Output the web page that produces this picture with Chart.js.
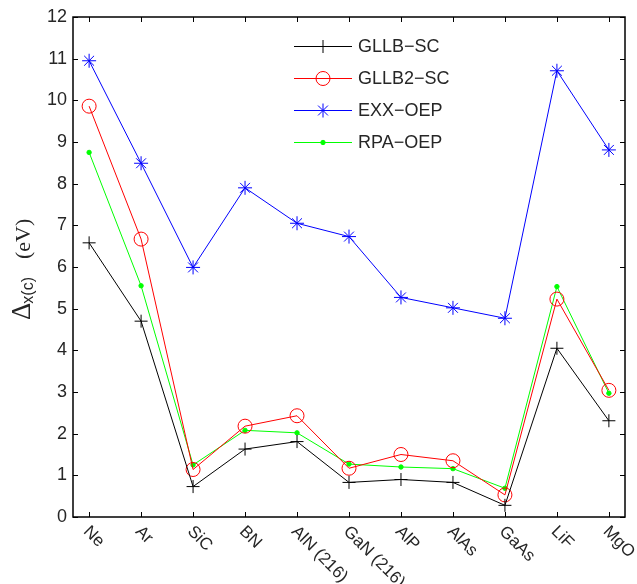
<!DOCTYPE html>
<html>
<head>
<meta charset="utf-8">
<script src="https://cdn.jsdelivr.net/npm/chart.js@4"></script>
<style>
  html, body { margin: 0; padding: 0; background: #fff; }
  #wrap { width: 637px; height: 584px; }
</style>
</head>
<body>
<div id="wrap"><canvas id="gapChart" width="637" height="584"></canvas></div>
<script>
// categories and values
const categories = ['Ne', 'Ar', 'SiC', 'BN', 'AlN (216)', 'GaN (216)', 'AlP', 'AlAs', 'GaAs', 'LiF', 'MgO'];
const gllbSc  = [6.58, 4.70, 0.73, 1.63, 1.81, 0.83, 0.90, 0.83, 0.28, 4.05, 2.31];
const gllb2Sc = [9.86, 6.67, 1.14, 2.18, 2.43, 1.17, 1.50, 1.35, 0.53, 5.23, 3.04];
const exxOep  = [10.95, 8.49, 5.99, 7.90, 7.05, 6.73, 5.27, 5.02, 4.77, 10.71, 8.81];
const rpaOep  = [8.75, 5.55, 1.25, 2.08, 2.02, 1.27, 1.20, 1.16, 0.69, 5.53, 2.97];
const yTicks  = [0, 1, 2, 3, 4, 5, 6, 7, 8, 9, 10, 11, 12];

const toPoints = vals => vals.map((v, i) => ({ x: i, y: v }));

function series(label, vals, color, style, radius, fill) {
    return {
        label: label,
        data: toPoints(vals),
        borderColor: color,
        backgroundColor: color,
        borderWidth: 1,
        pointStyle: style,
        pointRadius: radius,
        pointBorderColor: color,
        pointBackgroundColor: fill ? color : 'rgba(0,0,0,0)',
        pointBorderWidth: 1,
        tension: 0
    };
}

const datasets = [
    series('GLLB\u2212SC', gllbSc, '#000000', 'cross', 6.5, false),
    series('GLLB2\u2212SC', gllb2Sc, '#ff0000', 'circle', 7, false),
    series('EXX\u2212OEP', exxOep, '#0000ff', 'star', 7, false),
    series('RPA\u2212OEP', rpaOep, '#00ff00', 'circle', 2.2, true)
];

// frame, inward ticks, rotated x labels, legend and y title
const decorations = {
    id: 'decorations',
    afterDraw(chart) {
        const ctx = chart.ctx;
        const a = chart.chartArea;
        const xs = chart.scales.x, ys = chart.scales.y;
        ctx.save();
        ctx.strokeStyle = '#000';
        ctx.lineWidth = 1.5;
        ctx.strokeRect(a.left, a.top, a.right - a.left, a.bottom - a.top);

        ctx.lineWidth = 1;
        ctx.beginPath();
        categories.forEach((c, i) => {
            const px = Math.round(xs.getPixelForValue(i)) + 0.5;
            ctx.moveTo(px, a.bottom); ctx.lineTo(px, a.bottom - 5);
            ctx.moveTo(px, a.top); ctx.lineTo(px, a.top + 5);
        });
        yTicks.forEach(t => {
            const py = Math.round(ys.getPixelForValue(t)) + 0.5;
            ctx.moveTo(a.left, py); ctx.lineTo(a.left + 5, py);
            ctx.moveTo(a.right, py); ctx.lineTo(a.right - 5, py);
        });
        ctx.stroke();

        // x labels rotated 45 deg clockwise
        ctx.fillStyle = '#262626';
        ctx.font = '17px "Liberation Sans", Arial, sans-serif';
        ctx.textAlign = 'left';
        ctx.textBaseline = 'middle';
        categories.forEach((c, i) => {
            const px = xs.getPixelForValue(i);
            ctx.save();
            ctx.translate(px - 3, a.bottom + 12);
            ctx.rotate(Math.PI / 4);
            ctx.fillText(c, 0, 0);
            ctx.restore();
        });

        // legend
        const lx0 = 294, lx1 = 352, rows = [46, 78, 110, 142];
        ctx.font = '18px "Liberation Sans", Arial, sans-serif';
        chart.data.datasets.forEach((ds, k) => {
            const y = rows[k];
            ctx.strokeStyle = ds.borderColor;
            ctx.lineWidth = 1;
            ctx.beginPath();
            ctx.moveTo(lx0, y + 0.5); ctx.lineTo(lx1, y + 0.5);
            ctx.stroke();
            ctx.fillStyle = ds.pointBackgroundColor;
            Chart.helpers.drawPoint(ctx, {
                pointStyle: ds.pointStyle,
                radius: ds.pointRadius,
                borderWidth: 1,
                rotation: 0
            }, (lx0 + lx1) / 2, y + 0.5);
            ctx.fillStyle = '#262626';
            ctx.textAlign = 'left';
            ctx.textBaseline = 'middle';
            ctx.fillText(ds.label, 358, y + 1);
        });

        // y title: Delta_x(c) (eV)
        ctx.save();
        ctx.translate(30, 320);
        ctx.rotate(-Math.PI / 2);
        ctx.fillStyle = '#262626';
        ctx.textAlign = 'left';
        ctx.textBaseline = 'alphabetic';
        ctx.font = '27px "Liberation Serif", "Times New Roman", serif';
        ctx.fillText('\u0394', 0, 0);
        let w = ctx.measureText('\u0394').width;
        ctx.font = '16px "Liberation Sans", Arial, sans-serif';
        ctx.fillText('x(c)', w - 1, 3);
        w += -1 + ctx.measureText('x(c)').width;
        ctx.font = '22px "Liberation Serif", "Times New Roman", serif';
        ctx.fillText('(eV)', w + 18, 0);
        ctx.restore();

        ctx.restore();
    }
};

const ctx = document.getElementById('gapChart').getContext('2d');
const gapChart = new Chart(ctx, {
    type: 'line',
    data: { datasets: datasets },
    options: {
        responsive: false,
        animation: false,
        layout: { padding: { top: 17, right: 12, left: 0, bottom: 0 } },
        plugins: {
            legend: { display: false },
            tooltip: { enabled: false }
        },
        scales: {
            x: {
                type: 'linear',
                min: -0.31,
                max: 10.31,
                grid: { display: false },
                border: { display: false },
                ticks: { display: false },
                afterFit: s => { s.height = 67; }
            },
            y: {
                min: 0,
                max: 12,
                grid: { display: false, drawTicks: false },
                border: { display: false },
                afterBuildTicks: s => { s.ticks = yTicks.map(v => ({ value: v })); },
                ticks: {
                    padding: 6,
                    color: '#262626',
                    font: { family: '"Liberation Sans", Arial, sans-serif', size: 18 }
                },
                afterFit: s => { s.width = 73; }
            }
        }
    },
    plugins: [decorations]
});
</script>
</body>
</html>
